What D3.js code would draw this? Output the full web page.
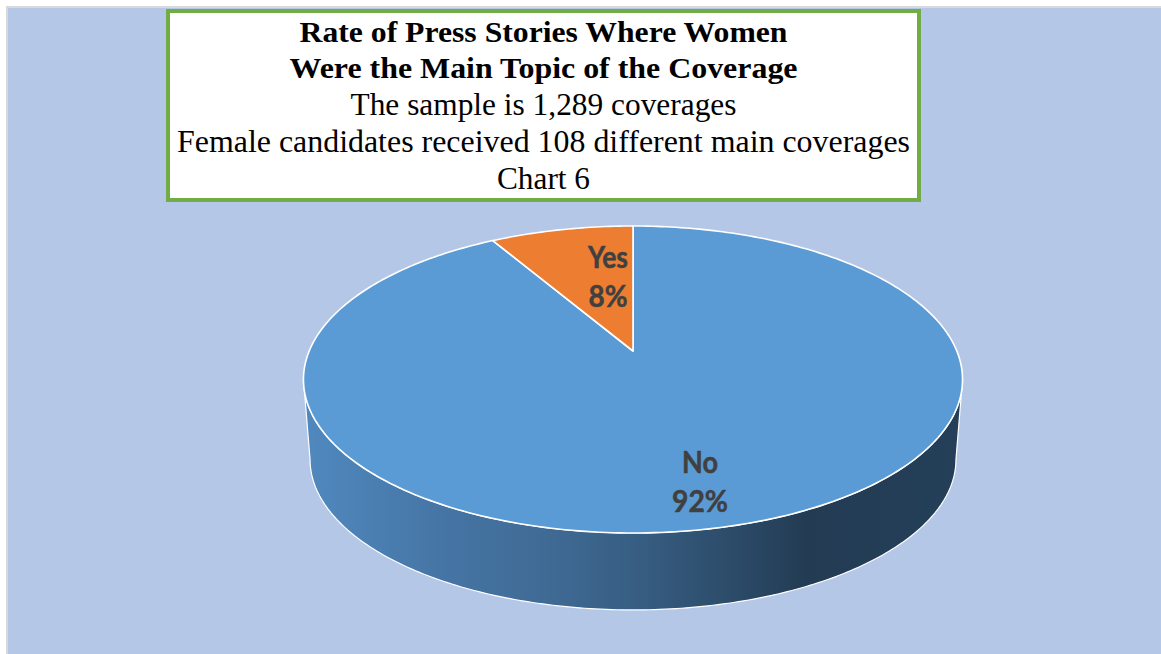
<!DOCTYPE html>
<html>
<head>
<meta charset="utf-8">
<script src="https://cdn.jsdelivr.net/npm/d3@7"></script>
<style>
  html, body { margin: 0; padding: 0; background: #ffffff; }
  svg { display: block; }
</style>
</head>
<body>
<svg id="chart" width="1161" height="654"></svg>
<script>
// ---- data ----
const categories = ["No", "Yes"];
const counts = [1181, 108];
const sliceColors = ["#5B9BD5", "#ED7D31"];
const titleLines = [
  "Rate of Press Stories Where Women",
  "Were the Main Topic of the Coverage",
  "The sample is 1,289 coverages",
  "Female candidates received 108 different main coverages",
  "Chart 6"
];

// ---- drawing ----
const svg = d3.select("#chart");
const W = 1161, H = 654;

// background
svg.append("rect").attr("x", 6).attr("y", 6).attr("width", W - 6).attr("height", H - 6).attr("fill", "#D9D9D9");
svg.append("rect").attr("x", 8).attr("y", 8).attr("width", W - 8).attr("height", H - 8).attr("fill", "#B4C7E7");

// 3D projection of the pie disc
const cx = 633, cy0 = 351, A = 323.8, B = 148.2, k = 0.1857, depth = 80.6, bottomScale = 0.98;
function proj(theta, r, level) {
  const s = level ? bottomScale : 1;
  const u = r * Math.sin(theta), v = r * Math.cos(theta);
  const d = 1 + k * v;
  return [cx + s * A * u / d, cy0 + (level ? depth : 0) - s * B * v / d];
}
const line = d3.line();
const TAU = Math.PI * 2;

const total = d3.sum(counts);
const pie = d3.pie().sort(null).value(d => d.value);
const arcs = pie(categories.map((c, i) => ({ name: c, value: counts[i], color: sliceColors[i] })));

// side wall (front half, silhouette between the extreme left and right points)
const tRight = Math.acos(-k), tLeft = TAU - Math.acos(-k);
const N = 200;
const sidePts = [];
for (let i = 0; i <= N; i++) sidePts.push(proj(tRight + (tLeft - tRight) * i / N, 1, 0));
for (let i = 0; i <= N; i++) sidePts.push(proj(tLeft - (tLeft - tRight) * i / N, 1, 1));

const defs = svg.append("defs");
const grad = defs.append("linearGradient").attr("id", "sideGrad")
  .attr("gradientUnits", "userSpaceOnUse")
  .attr("x1", cx - A * 1.02).attr("y1", 0).attr("x2", cx + A * 1.02).attr("y2", 0);
[["0%", "#5089BF"], ["20%", "#4676A6"], ["40%", "#3E6891"], ["52%", "#365C80"],
 ["66%", "#2B4A67"], ["76%", "#233C54"], ["100%", "#243F58"]]
  .forEach(([o, c]) => grad.append("stop").attr("offset", o).attr("stop-color", c));

svg.append("path")
  .attr("d", line(sidePts) + "Z")
  .attr("fill", "url(#sideGrad)")
  .attr("stroke", "#ffffff").attr("stroke-width", 1.2).attr("stroke-linejoin", "round");

// top face slices
arcs.forEach(a => {
  const pts = [proj(0, 0, 0)];
  const n = Math.max(4, Math.ceil((a.endAngle - a.startAngle) / TAU * 360));
  for (let i = 0; i <= n; i++) pts.push(proj(a.startAngle + (a.endAngle - a.startAngle) * i / n, 1, 0));
  svg.append("path")
    .attr("d", line(pts) + "Z")
    .attr("fill", a.data.color)
    .attr("stroke", "#ffffff").attr("stroke-width", 1.6).attr("stroke-linejoin", "round");
});

// data labels
const labelLayout = { No: { r: 0.779, da: 0.033, w1: 36, w2: 56 }, Yes: { r: 0.557, da: 0.11, w1: 40, w2: 39 } };
arcs.forEach(a => {
  const L = labelLayout[a.data.name];
  const mid = (a.startAngle + a.endAngle) / 2 + L.da;
  const [x, y] = proj(mid, L.r, 0);
  const pct = Math.round(a.value / total * 100) + "%";
  const g = svg.append("g").attr("font-family", "Lato, 'Open Sans', sans-serif")
    .attr("font-weight", "bold").attr("font-size", 30).attr("fill", "#404040").attr("text-anchor", "middle")
    .attr("stroke", "#404040").attr("stroke-width", 0.5);
  g.append("text").attr("x", x).attr("y", y - 8.85).attr("textLength", L.w1).attr("lengthAdjust", "spacingAndGlyphs").text(a.data.name);
  g.append("text").attr("x", x).attr("y", y + 29.85).attr("textLength", L.w2).attr("lengthAdjust", "spacingAndGlyphs").text(pct);
});

// title box
svg.append("rect").attr("x", 168).attr("y", 11).attr("width", 751).attr("height", 189)
  .attr("fill", "#ffffff").attr("stroke", "#70AD47").attr("stroke-width", 4);

const titleWidths = [488, 508, 386, 733, 93];
const titleBase = 41.7, titleStep = 36.7;
titleLines.forEach((t, i) => {
  svg.append("text")
    .attr("x", 543.5).attr("y", titleBase + i * titleStep)
    .attr("text-anchor", "middle")
    .attr("font-family", "'Liberation Serif', 'Times New Roman', serif")
    .attr("font-weight", i < 2 ? "bold" : "normal")
    .attr("font-size", i < 2 ? 30 : 31)
    .attr("fill", "#000000")
    .attr("textLength", titleWidths[i]).attr("lengthAdjust", "spacingAndGlyphs")
    .text(t);
});
</script>
</body>
</html>
